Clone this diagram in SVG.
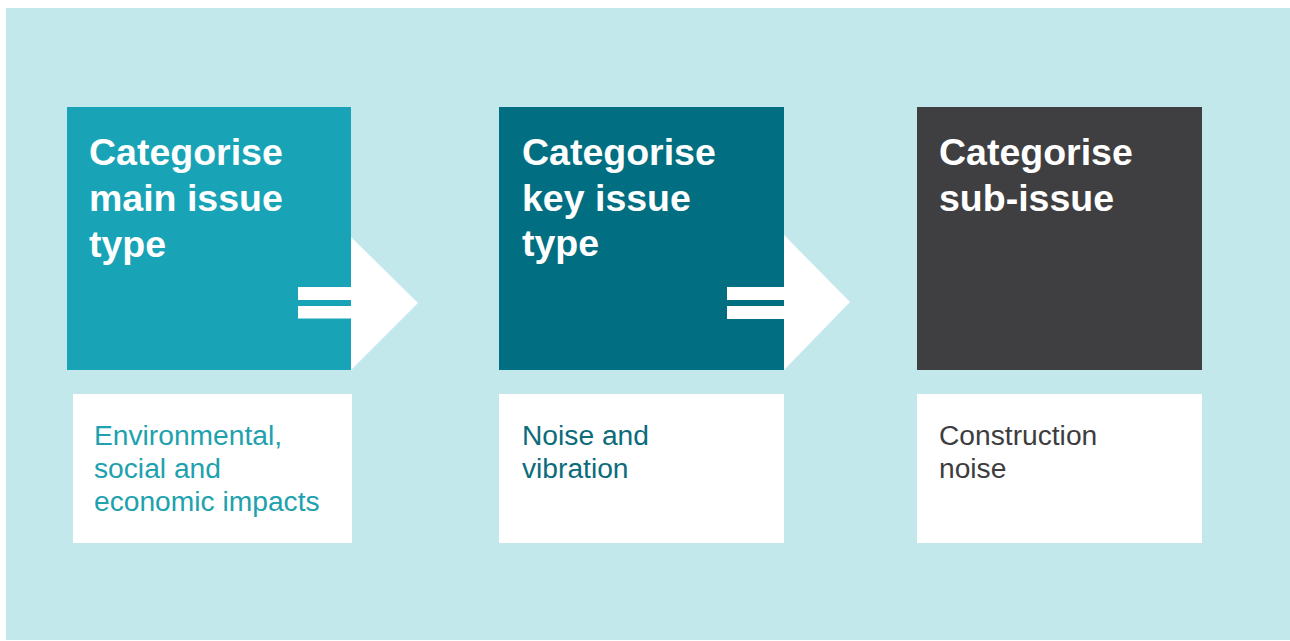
<svg xmlns="http://www.w3.org/2000/svg" width="1290" height="641" viewBox="0 0 1290 641">
  <style>
    .head { font-family: "Liberation Sans", Arial, sans-serif; font-weight: bold; font-size: 37.5px; fill: #ffffff; }
    .body { font-family: "Liberation Sans", Arial, sans-serif; font-size: 28.2px; }
    .card { fill: #ffffff; }
    .arrow { fill: #ffffff; }
  </style>
  <rect x="0" y="0" width="1290" height="641" fill="#ffffff"/>
  <rect x="6" y="8" width="1284" height="632" fill="#c3e8ec"/>

  <g id="step-main">
    <rect x="67" y="107" width="284" height="263" fill="#18a4b6"/>
    <text class="head" x="89" y="165">Categorise</text>
    <text class="head" x="89" y="211">main issue</text>
    <text class="head" x="89" y="257">type</text>
  </g>
  <g id="detail-main">
    <rect class="card" x="73" y="394" width="279" height="149"/>
    <text class="body" x="94" y="445" fill="#20a1ae">Environmental,</text>
    <text class="body" x="94" y="478" fill="#20a1ae">social and</text>
    <text class="body" x="94" y="511" fill="#20a1ae">economic impacts</text>
  </g>

  <g id="step-key">
    <rect x="499" y="107" width="285" height="263" fill="#016f81"/>
    <text class="head" x="522" y="165">Categorise</text>
    <text class="head" x="522" y="210.5">key issue</text>
    <text class="head" x="522" y="256">type</text>
  </g>
  <g id="detail-key">
    <rect class="card" x="499" y="394" width="285" height="149"/>
    <text class="body" x="522" y="445" fill="#0c6c7b">Noise and</text>
    <text class="body" x="522" y="478" fill="#0c6c7b">vibration</text>
  </g>

  <g id="step-sub">
    <rect x="917" y="107" width="285" height="263" fill="#3f3f42"/>
    <text class="head" x="939" y="165">Categorise</text>
    <text class="head" x="939" y="210.5">sub-issue</text>
  </g>
  <g id="detail-sub">
    <rect class="card" x="917" y="394" width="285" height="149"/>
    <text class="body" x="939" y="445" fill="#3d3d3f">Construction</text>
    <text class="body" x="939" y="478" fill="#3d3d3f">noise</text>
  </g>

  <g id="connectors">
    <g class="arrow">
      <polygon points="351,237 418,303 351,370"/>
      <rect x="298" y="287" width="53" height="13"/>
      <rect x="298" y="306" width="53" height="12.5"/>
    </g>
    <g class="arrow">
      <polygon points="784,235 850,302 784,370"/>
      <rect x="727" y="287" width="57" height="13"/>
      <rect x="727" y="306" width="57" height="13"/>
    </g>
  </g>
</svg>
